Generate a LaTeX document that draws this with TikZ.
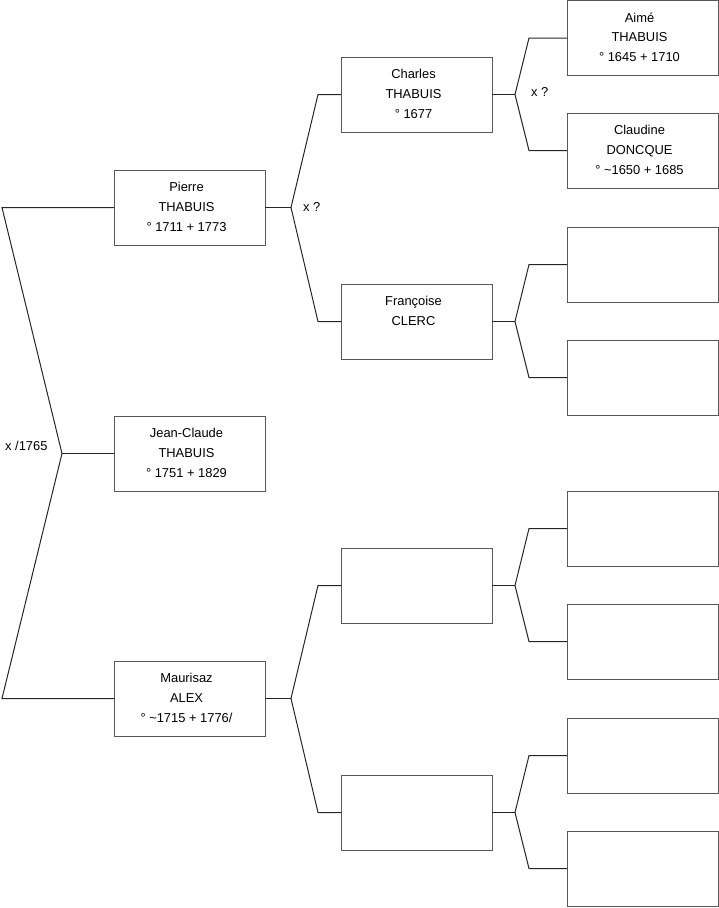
\documentclass[tikz,border=0pt]{standalone}
\usepackage{fontspec}
\setmainfont{Liberation Sans}
\newcommand\pers[3]{\parbox[c][75pt][t]{151pt}{\centering\rightskip=6pt plus 1fil\rule{0pt}{21.7pt}#1\\#2\\#3}}
\newcommand\persB[2]{\parbox[c][75pt][t]{151pt}{\centering\rightskip=6pt plus 1fil\rule{0pt}{21.7pt}#1\\#2}}
\begin{document}
\begin{tikzpicture}[x=1pt,y=-1pt,
  box/.style={draw=black!65, line width=1pt, inner sep=0pt, outer sep=0pt,
    minimum width=151pt, minimum height=75pt, anchor=north west,
    font=\fontsize{12.9}{19.7}\selectfont},
  conn/.style={draw=black!85, line width=1pt},
  lbl/.style={anchor=base west, inner sep=0pt, font=\fontsize{12.9}{15}\selectfont}]
\useasboundingbox (0,0) rectangle (719,908);
% level 1-2
\node[box] (jc) at (114,416) {\pers{Jean-Claude}{THABUIS}{° 1751 + 1829}};
\node[box] (pierre) at (114,170) {\pers{Pierre}{THABUIS}{° 1711 + 1773}};
\node[box] (maur) at (114,661) {\pers{Maurisaz}{ALEX}{° \textasciitilde1715 + 1776/}};
% level 3
\node[box] (charles) at (341,57) {\pers{Charles}{THABUIS}{° 1677}};
\node[box] (franc) at (341,284) {\persB{Françoise}{CLERC}};
\node[box] (m1) at (341,548) {};
\node[box] (m2) at (341,775) {};
% level 4
\node[box] (aime) at (567,0.5) {\pers{Aimé}{THABUIS}{° 1645 + 1710}};
\node[box] (claud) at (567,113) {\pers{Claudine}{DONCQUE}{° \textasciitilde1650 + 1685}};
\node[box] (r3) at (567,227) {};
\node[box] (r4) at (567,340) {};
\node[box] (r5) at (567,491) {};
\node[box] (r6) at (567,604) {};
\node[box] (r7) at (567,718) {};
\node[box] (r8) at (567,831) {};
% fork coordinates
\coordinate (f0) at (62,453.5);
\coordinate (f0a) at (2,207.5);
\coordinate (f0b) at (2,698.5);
\coordinate (f1) at (291,207.5);
\coordinate (f1a) at (318,94.5);
\coordinate (f1b) at (318,321.5);
\coordinate (f2) at (291,698.5);
\coordinate (f2a) at (318,585.5);
\coordinate (f2b) at (318,812.5);
\coordinate (g1) at (515,94.5);
\coordinate (g1a) at (529,38);
\coordinate (g1b) at (529,150.5);
\coordinate (g2) at (515,321.5);
\coordinate (g2a) at (529,264.5);
\coordinate (g2b) at (529,377.5);
\coordinate (g3) at (515,585.5);
\coordinate (g3a) at (529,528.5);
\coordinate (g3b) at (529,641.5);
\coordinate (g4) at (515,812.5);
\coordinate (g4a) at (529,755.5);
\coordinate (g4b) at (529,868.5);
% connectors
\draw[conn] (pierre.west) -- (f0a) -- (f0) -- (f0b) -- (maur.west);
\draw[conn] (f0) -- (jc.west);
\draw[conn] (pierre.east) -- (f1);
\draw[conn] (charles.west) -- (f1a) -- (f1) -- (f1b) -- (franc.west);
\draw[conn] (maur.east) -- (f2);
\draw[conn] (m1.west) -- (f2a) -- (f2) -- (f2b) -- (m2.west);
\draw[conn] (charles.east) -- (g1);
\draw[conn] (aime.west) -- (g1a) -- (g1) -- (g1b) -- (claud.west);
\draw[conn] (franc.east) -- (g2);
\draw[conn] (r3.west) -- (g2a) -- (g2) -- (g2b) -- (r4.west);
\draw[conn] (m1.east) -- (g3);
\draw[conn] (r5.west) -- (g3a) -- (g3) -- (g3b) -- (r6.west);
\draw[conn] (m2.east) -- (g4);
\draw[conn] (r7.west) -- (g4a) -- (g4) -- (g4b) -- (r8.west);
% labels
\node[lbl] (l0) at (5,450) {x /1765};
\node[lbl] (l1) at (303,211.7) {x ?};
\node[lbl] (l2) at (531,96.7) {x ?};
\end{tikzpicture}
\end{document}
